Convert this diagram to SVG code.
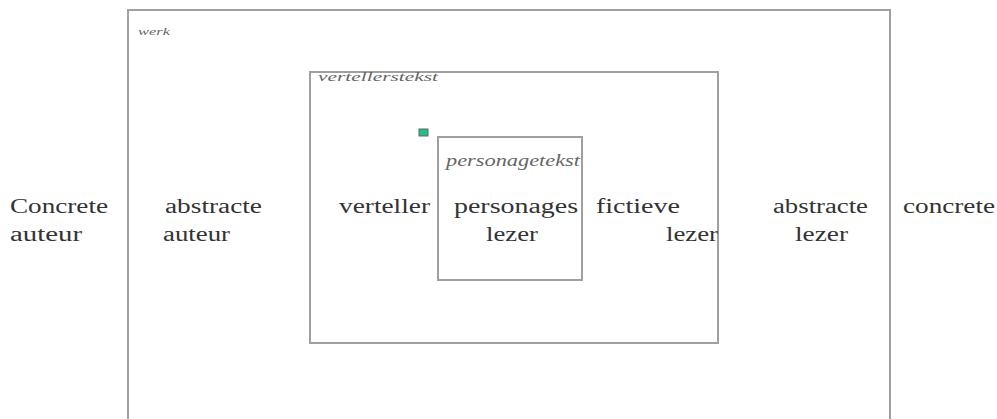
<svg xmlns="http://www.w3.org/2000/svg" width="997" height="419" viewBox="0 0 997 419">
<style>
.box{fill:none;stroke:#a0a0a0;stroke-width:2}
</style>
<rect width="997" height="419" fill="#fff"/>
<g id="werk">
<rect class="box" x="128" y="10" width="762" height="420"/>
<text x="138" y="35" font-family="Liberation Serif, DejaVu Serif, serif" font-style="italic" fill="#666" font-size="11" textLength="32" lengthAdjust="spacingAndGlyphs">werk</text>
</g>
<g id="vertellerstekst">
<rect class="box" x="310" y="72" width="408" height="271"/>
<text x="318" y="81" font-family="Liberation Serif, DejaVu Serif, serif" font-style="italic" fill="#666" font-size="12" textLength="120" lengthAdjust="spacingAndGlyphs">vertellerstekst</text>
</g>
<g id="personagetekst">
<rect class="box" x="438" y="137" width="144" height="143"/>
<text x="446" y="166" font-family="Liberation Serif, DejaVu Serif, serif" font-style="italic" fill="#666" font-size="16" textLength="134" lengthAdjust="spacingAndGlyphs">personagetekst</text>
</g>
<g id="marker">
<rect x="419" y="129" width="9" height="7" fill="#1dbf8a" stroke="#666" stroke-width="1"/>
</g>
<g id="labels" font-family="Liberation Serif, DejaVu Serif, serif" font-size="20" fill="#333">
<text x="10" y="213" textLength="98" lengthAdjust="spacingAndGlyphs">Concrete</text>
<text x="10" y="241" textLength="72" lengthAdjust="spacingAndGlyphs">auteur</text>
<text x="165" y="213" textLength="97" lengthAdjust="spacingAndGlyphs">abstracte</text>
<text x="163" y="241" textLength="67" lengthAdjust="spacingAndGlyphs">auteur</text>
<text x="339" y="213" textLength="91" lengthAdjust="spacingAndGlyphs">verteller</text>
<text x="454" y="213" textLength="124" lengthAdjust="spacingAndGlyphs">personages</text>
<text x="486" y="241" textLength="52" lengthAdjust="spacingAndGlyphs">lezer</text>
<text x="596" y="213" textLength="84" lengthAdjust="spacingAndGlyphs">fictieve</text>
<text x="666" y="241" textLength="52" lengthAdjust="spacingAndGlyphs">lezer</text>
<text x="773" y="213" textLength="95" lengthAdjust="spacingAndGlyphs">abstracte</text>
<text x="795" y="241" textLength="53" lengthAdjust="spacingAndGlyphs">lezer</text>
<text x="903" y="213" textLength="92" lengthAdjust="spacingAndGlyphs">concrete</text>
</g>
<g id="connectors"></g>
</svg>
